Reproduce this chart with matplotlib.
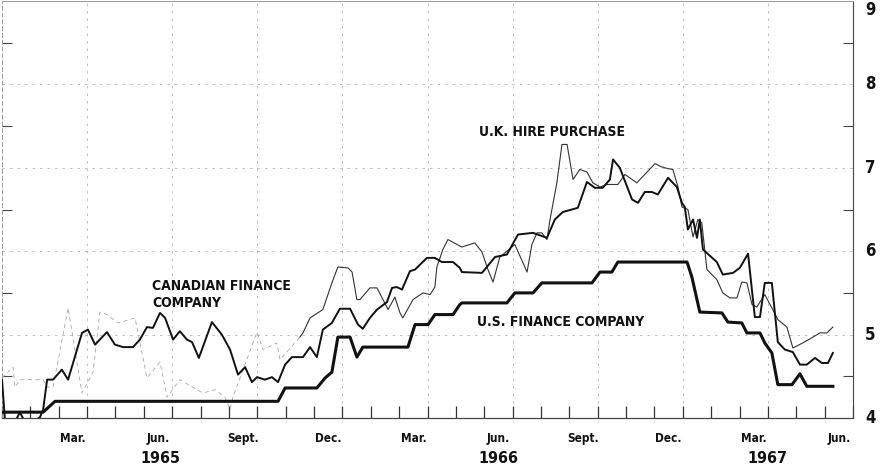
import matplotlib
matplotlib.use("Agg")
import matplotlib.pyplot as plt
from matplotlib.ticker import MultipleLocator, FixedLocator

# months counted from the start of Jan. 1965, rates in per cent
us_month = [0, 1.45, 1.87, 9.73, 9.98, 11.10, 11.39, 11.63, 11.84, 12.27, 12.51, 12.72,
            14.31, 14.56, 15.02, 15.26, 15.90, 16.14, 16.21, 17.80, 18.08, 18.72, 19.03,
            20.80, 21.08, 21.50, 21.71, 24.15, 24.32, 24.60, 25.38, 25.59, 26.08, 26.26,
            26.72, 26.89, 27.14, 27.35, 27.85, 28.13, 28.37, 29.29]
us_rate = [4.07, 4.07, 4.20, 4.20, 4.36, 4.36, 4.48, 4.55, 4.97, 4.97, 4.73, 4.85,
           4.85, 5.12, 5.12, 5.24, 5.24, 5.36, 5.38, 5.38, 5.50, 5.50, 5.62,
           5.62, 5.75, 5.75, 5.87, 5.87, 5.69, 5.27, 5.26, 5.15, 5.14, 5.02,
           5.02, 4.90, 4.78, 4.40, 4.40, 4.53, 4.38, 4.38]

can_month = [0, 0.11, 0.46, 0.63, 0.81, 1.09, 1.34, 1.45, 1.59, 1.80, 2.11, 2.33, 2.82,
             3.03, 3.28, 3.70, 3.98, 4.27, 4.62, 4.86, 5.11, 5.32, 5.57, 5.75, 6.03, 6.27,
             6.52, 6.70, 6.94, 7.40, 7.75, 8.04, 8.32, 8.57, 8.81, 8.99, 9.27, 9.52, 9.73,
             9.98, 10.22, 10.61, 10.86, 11.10, 11.31, 11.63, 11.91, 12.27, 12.55, 12.72,
             12.97, 13.22, 13.57, 13.75, 13.92, 14.10, 14.38, 14.56, 14.98, 15.26, 15.51,
             15.90, 16.14, 16.21, 16.92, 17.38, 17.80, 18.19, 18.72, 19.21, 19.49, 19.77,
             20.30, 20.62, 20.90, 21.18, 21.43, 21.54, 21.78, 22.21, 22.42, 22.66, 22.91,
             23.12, 23.48, 23.79, 23.97, 24.07, 24.18, 24.36, 24.50, 24.60, 24.71, 25.20,
             25.41, 25.77, 26.01, 26.30, 26.54, 26.72, 26.89, 27.14, 27.35, 27.60, 27.88,
             28.13, 28.37, 28.66, 28.90, 29.12, 29.29]
can_rate = [4.46, 3.95, 3.95, 4.07, 3.95, 3.95, 4.01, 4.10, 4.46, 4.46, 4.58, 4.46, 5.02,
            5.06, 4.88, 5.03, 4.88, 4.85, 4.85, 4.94, 5.09, 5.08, 5.26, 5.20, 4.94, 5.04,
            4.94, 4.91, 4.72, 5.15, 5.00, 4.82, 4.52, 4.61, 4.43, 4.49, 4.46, 4.49, 4.43,
            4.64, 4.73, 4.73, 4.85, 4.73, 5.06, 5.14, 5.31, 5.31, 5.12, 5.07,
            5.20, 5.30, 5.39, 5.56, 5.57, 5.54, 5.76, 5.78, 5.92, 5.92, 5.87,
            5.87, 5.80, 5.75, 5.74, 5.93, 5.96, 6.20, 6.22, 6.16, 6.38, 6.47,
            6.52, 6.83, 6.76, 6.76, 6.86, 7.10, 7.00, 6.62, 6.58, 6.71, 6.71,
            6.68, 6.88, 6.77, 6.58, 6.53, 6.26, 6.38, 6.16, 6.38, 6.02, 5.87,
            5.72, 5.74, 5.80, 5.97, 5.21, 5.21, 5.62, 5.62, 4.91, 4.82, 4.79,
            4.64, 4.64, 4.72, 4.66, 4.66, 4.78]

uk_month = [0, 0.39, 0.46, 0.63, 1.45, 1.59, 1.80, 2.33, 2.82, 3.21, 3.45, 3.70, 4.09,
            4.69, 5.11, 5.57, 5.82, 6.27, 7.08, 7.51, 7.86, 8.04, 8.14, 8.99, 9.20, 9.69,
            9.80, 10.50, 10.61, 10.86, 11.31, 11.63, 11.84, 12.20, 12.34, 12.51, 12.62,
            12.97, 13.22, 13.43, 13.61, 13.85, 14.03, 14.13, 14.49, 14.84, 15.09, 15.26,
            15.33, 15.54, 15.72, 16.21, 16.67, 16.92, 17.13, 17.31, 17.55, 17.66, 18.08,
            18.51, 18.68, 18.86, 19.03, 19.21, 19.32, 19.56, 19.74, 19.92, 20.13, 20.37,
            20.62, 20.83, 21.08, 21.33, 21.71, 21.96, 22.38, 23.02, 23.26, 23.48, 23.65,
            23.83, 23.97, 24.18, 24.36, 24.53, 24.67, 24.85, 25.20, 25.41, 25.66, 25.91,
            26.08, 26.26, 26.44, 26.61, 26.89, 27.14, 27.35, 27.67, 27.88, 28.23, 28.59,
            28.83, 29.08, 29.29]
uk_rate = [4.48, 4.61, 4.37, 4.46, 4.46, 4.37, 4.37, 5.32, 4.30, 4.55, 5.27, 5.24, 5.14,
           5.20, 4.48, 4.67, 4.25, 4.46, 4.30, 4.34, 4.25, 4.10, 4.25, 5.03, 4.82, 4.90,
           4.70, 4.97, 5.02, 5.20, 5.30, 5.62, 5.81, 5.80, 5.75, 5.42, 5.42,
           5.56, 5.56, 5.42, 5.30, 5.45, 5.26, 5.20, 5.42, 5.50, 5.48, 5.57,
           5.81, 6.02, 6.14, 6.05, 6.10, 5.99, 5.78, 5.63, 5.93, 5.96, 6.08,
           5.75, 6.08, 6.22, 6.22, 6.14, 6.38, 6.82, 7.28, 7.28, 6.86, 6.98,
           6.95, 6.82, 6.77, 6.80, 6.80, 6.92, 6.82, 7.05, 7.01, 6.99, 6.98,
           6.77, 6.53, 6.50, 6.17, 6.38, 6.34, 5.78, 5.66, 5.50, 5.44, 5.44,
           5.63, 5.62, 5.36, 5.33, 5.48, 5.32, 5.18, 5.09, 4.84, 4.90, 4.97,
           5.02, 5.02, 5.09]
uk_faint_until = 10.5  # the 1965 part of this line is barely printed

label_month = [2.5, 5.5, 8.5, 11.5, 14.5, 17.5, 20.5, 23.5, 26.5, 29.5]
label_text = ["Mar.", "Jun.", "Sept.", "Dec.", "Mar.", "Jun.", "Sept.", "Dec.", "Mar.", "Jun."]
year_month = [5.6, 17.5, 27.0]
year_text = ["1965", "1966", "1967"]
rate_ticks = [4, 5, 6, 7, 8, 9]

bold = dict(family="DejaVu Sans", fontweight="bold", fontstretch="condensed", color="#111111")

fig = plt.figure(figsize=(8.85, 4.73), dpi=100)
ax = fig.add_axes([2 / 885, 55 / 473, 851 / 885, 417 / 473])

# faint grid
for m in range(3, 30, 3):
    ax.axvline(m, color="#b5b5b5", lw=0.6, ls=(0, (3, 6)), zorder=0)
for v in rate_ticks[1:-1]:
    ax.axhline(v, color="#b5b5b5", lw=0.6, ls=(0, (3, 6)), zorder=0)

# uk hire purchase (thin), hardly printed in 1965
i = sum(1 for m in uk_month if m <= uk_faint_until)
ax.plot(uk_month[:i], uk_rate[:i], color="#a8a8a8", lw=0.6, ls=(0, (5, 4)), zorder=2)
ax.plot(uk_month[i - 1:], uk_rate[i - 1:], color="#333333", lw=0.8, zorder=2)
ax.plot(can_month, can_rate, color="#111111", lw=1.4, zorder=3)
ax.plot(us_month, us_rate, color="#111111", lw=2.2, zorder=4)

ax.set_xlim(0, 30)
ax.set_ylim(4, 9)

# series labels
ax.text(5.3, 5.48, "CANADIAN FINANCE\nCOMPANY", fontsize=10, linespacing=1.2, va="center", **bold)
ax.text(16.8, 7.43, "U.K. HIRE PURCHASE", fontsize=10, va="center", **bold)
ax.text(16.75, 5.15, "U.S. FINANCE COMPANY", fontsize=10, va="center", **bold)

# axes frame
for side in ["left", "top"]:
    ax.spines[side].set_color("#999999")
    ax.spines[side].set_linewidth(0.7)
ax.spines["left"].set_linestyle((0, (4, 3)))
ax.spines["right"].set_color("#444444")
ax.spines["right"].set_linewidth(0.8)
ax.spines["bottom"].set_color("#444444")
ax.spines["bottom"].set_linewidth(0.9)

ax.xaxis.set_major_locator(FixedLocator(range(0, 31)))
ax.tick_params(axis="x", which="major", direction="in", length=9, width=0.9,
               color="#333333", labelbottom=False)
ax.yaxis.set_major_locator(FixedLocator(rate_ticks))
ax.yaxis.set_minor_locator(MultipleLocator(0.5))
ax.tick_params(axis="y", which="major", length=0, labelleft=False)
ax.tick_params(axis="y", which="minor", direction="in", length=7, width=0.8,
               color="#444444", left=True, right=True)

# rate labels on the right, the top one kept inside the picture
ytrans = ax.get_yaxis_transform()
for v in rate_ticks:
    ax.text(1.02, v, str(v), transform=ytrans, ha="center",
            va="top" if v == rate_ticks[-1] else "center", fontsize=12, **bold)

trans = ax.get_xaxis_transform()
for m, s in zip(label_month, label_text):
    ax.text(m, -0.05, s, transform=trans, ha="center", va="center", fontsize=8.5, **bold)
for m, s in zip(year_month, year_text):
    ax.text(m, -0.097, s, transform=trans, ha="center", va="center", fontsize=11.5, **bold)

fig.savefig("out.png", dpi=100)
